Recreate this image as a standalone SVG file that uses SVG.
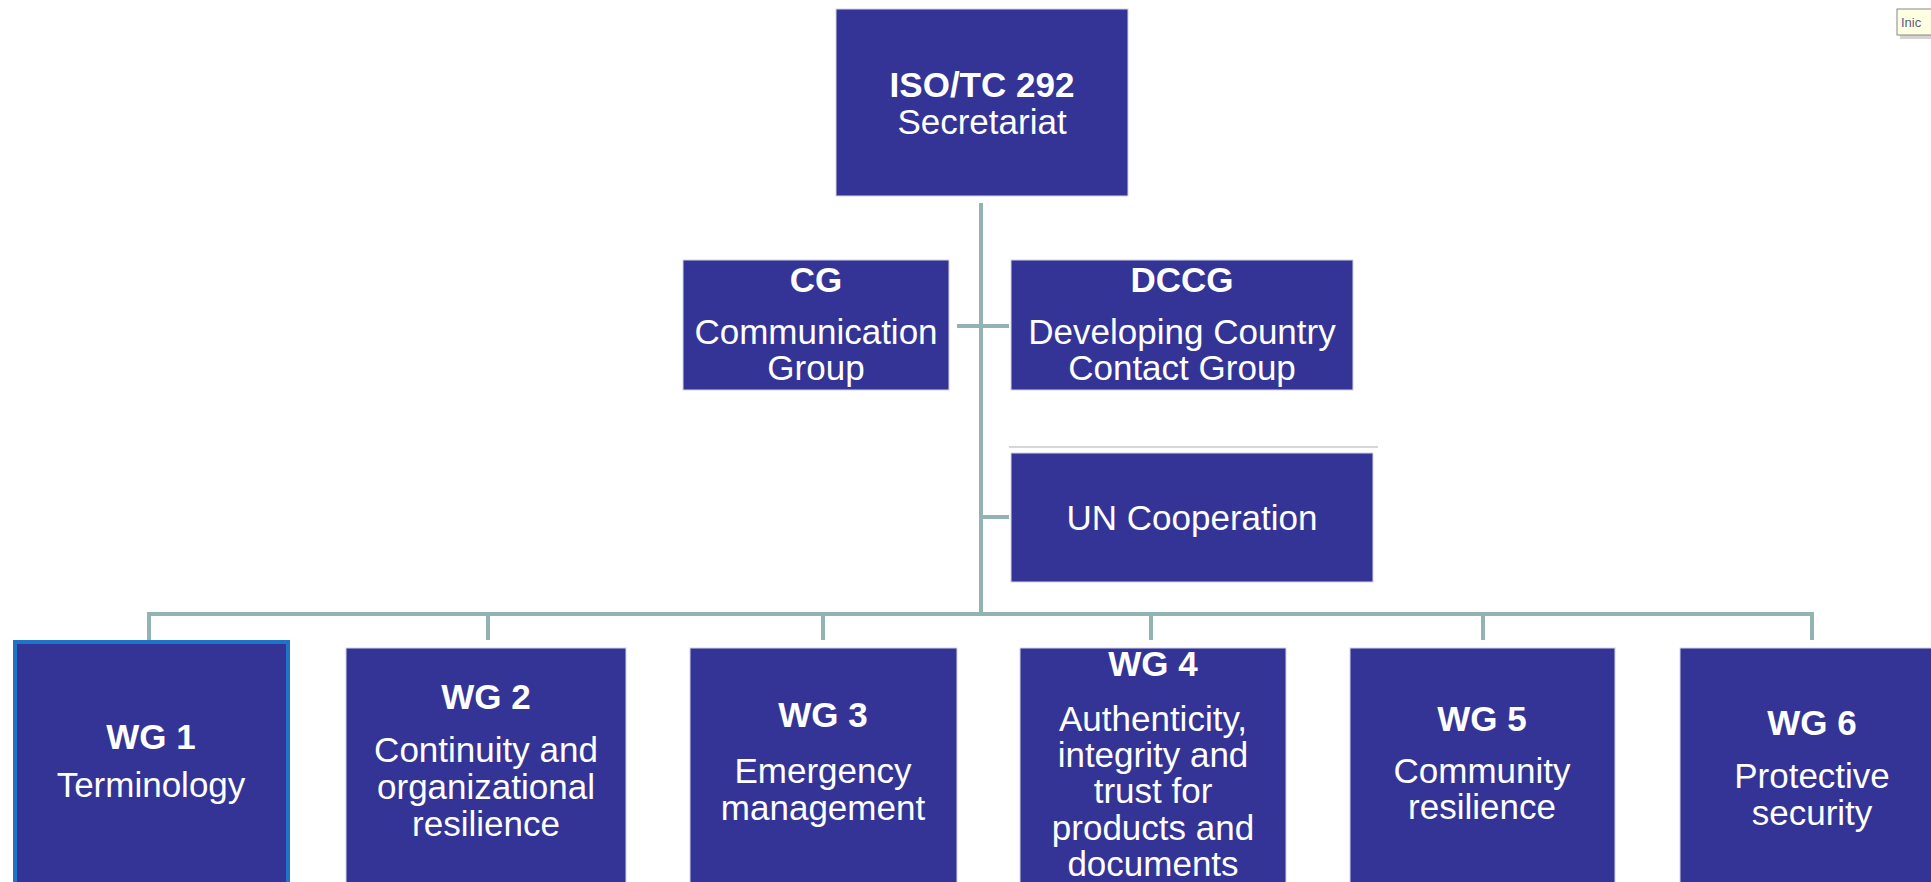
<svg xmlns="http://www.w3.org/2000/svg" width="1931" height="882" viewBox="0 0 1931 882">
<style>
.box{fill:#343497;stroke:#d4d4e8;stroke-width:1}
.wg1{fill:#343497;stroke:#1f73c8;stroke-width:4}
.t{font-family:"Liberation Sans",Arial,sans-serif;font-size:35px;fill:#ffffff;text-anchor:middle}
.b{font-weight:bold}
.ln{stroke:#93b3b3;stroke-width:4;fill:none}
</style>
<rect width="1931" height="882" fill="#ffffff"/>
<g id="connectors">
<line class="ln" x1="981" y1="203" x2="981" y2="614"/>
<line class="ln" x1="957" y1="326" x2="1009" y2="326"/>
<line class="ln" x1="981" y1="517" x2="1009" y2="517"/>
<path class="ln" d="M149,640 V614 H1812 V640"/>
<line class="ln" x1="488" y1="614" x2="488" y2="640"/>
<line class="ln" x1="823" y1="614" x2="823" y2="640"/>
<line class="ln" x1="1151" y1="614" x2="1151" y2="640"/>
<line class="ln" x1="1483" y1="614" x2="1483" y2="640"/>
<line x1="1009" y1="447" x2="1378" y2="447" stroke="#d6d6d6" stroke-width="2"/>
</g>
<g id="secretariat">
<rect class="box" x="836" y="9" width="292" height="187"/>
<text class="t b" x="982" y="97">ISO/TC 292</text>
<text class="t" x="982" y="134">Secretariat</text>
</g>
<g id="cg">
<rect class="box" x="683" y="260" width="266" height="130"/>
<text class="t b" x="816" y="292">CG</text>
<text class="t" x="816" y="344">Communication</text>
<text class="t" x="816" y="380">Group</text>
</g>
<g id="dccg">
<rect class="box" x="1011" y="260" width="342" height="130"/>
<text class="t b" x="1182" y="292">DCCG</text>
<text class="t" x="1182" y="344">Developing Country</text>
<text class="t" x="1182" y="380">Contact Group</text>
</g>
<g id="un">
<rect class="box" x="1011" y="453" width="362" height="129"/>
<text class="t" x="1192" y="530">UN Cooperation</text>
</g>
<g id="wg1">
<rect class="wg1" x="15" y="642" width="273" height="250"/>
<text class="t b" x="151" y="749">WG 1</text>
<text class="t" x="151" y="797">Terminology</text>
</g>
<g id="wg2">
<rect class="box" x="346" y="648" width="280" height="250"/>
<text class="t b" x="486" y="709">WG 2</text>
<text class="t" x="486" y="762">Continuity and</text>
<text class="t" x="486" y="799">organizational</text>
<text class="t" x="486" y="836">resilience</text>
</g>
<g id="wg3">
<rect class="box" x="690" y="648" width="267" height="250"/>
<text class="t b" x="823" y="727">WG 3</text>
<text class="t" x="823" y="783">Emergency</text>
<text class="t" x="823" y="820">management</text>
</g>
<g id="wg4">
<rect class="box" x="1020" y="648" width="266" height="250"/>
<text class="t b" x="1153" y="676">WG 4</text>
<text class="t" x="1153" y="731">Authenticity,</text>
<text class="t" x="1153" y="767">integrity and</text>
<text class="t" x="1153" y="803">trust for</text>
<text class="t" x="1153" y="840">products and</text>
<text class="t" x="1153" y="876">documents</text>
</g>
<g id="wg5">
<rect class="box" x="1350" y="648" width="265" height="250"/>
<text class="t b" x="1482" y="731">WG 5</text>
<text class="t" x="1482" y="783">Community</text>
<text class="t" x="1482" y="819">resilience</text>
</g>
<g id="wg6">
<rect class="box" x="1680" y="648" width="265" height="250"/>
<text class="t b" x="1812" y="735">WG 6</text>
<text class="t" x="1812" y="788">Protective</text>
<text class="t" x="1812" y="825">security</text>
</g>
<g id="tooltip">
<rect x="1900" y="12" width="34" height="27" fill="#a8a8a8" opacity="0.5"/>
<rect x="1897" y="9" width="36" height="26" fill="#ffffe1" stroke="#888888" stroke-width="1"/>
<text x="1901" y="27" font-family="'Liberation Sans',Arial,sans-serif" font-size="13" fill="#5a5a8a">Inic</text>
</g>
</svg>
